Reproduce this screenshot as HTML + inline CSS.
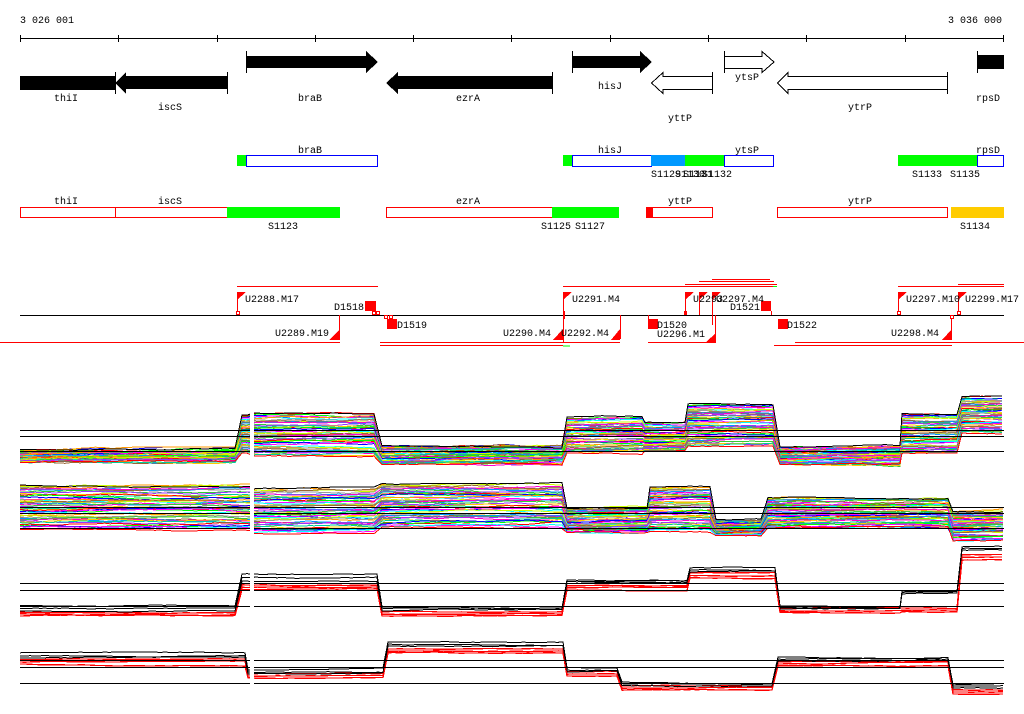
<!DOCTYPE html>
<html><head><meta charset="utf-8"><style>
html,body{margin:0;padding:0;background:#fff;width:1024px;height:714px;overflow:hidden}
svg text{font-family:"Liberation Mono","DejaVu Sans Mono",monospace;font-size:10px;fill:#000}
</style></head><body>
<svg id="s" width="1024" height="714" xmlns="http://www.w3.org/2000/svg" shape-rendering="crispEdges">
<text x="20" y="23">3 026 001</text>
<text x="948" y="23">3 036 000</text>
<line x1="20" y1="38.5" x2="1004" y2="38.5" stroke="#000"/>
<g stroke="#000">
<line x1="20.5" y1="35" x2="20.5" y2="42"/><line x1="118.5" y1="35" x2="118.5" y2="42"/><line x1="217.5" y1="35" x2="217.5" y2="42"/><line x1="315.5" y1="35" x2="315.5" y2="42"/><line x1="413.5" y1="35" x2="413.5" y2="42"/><line x1="511.5" y1="35" x2="511.5" y2="42"/><line x1="610.5" y1="35" x2="610.5" y2="42"/><line x1="708.5" y1="35" x2="708.5" y2="42"/><line x1="806.5" y1="35" x2="806.5" y2="42"/><line x1="905.5" y1="35" x2="905.5" y2="42"/><line x1="1003.5" y1="35" x2="1003.5" y2="42"/>
</g>
<!-- genes -->
<rect x="20" y="76" width="95" height="14" fill="#000"/>
<polygon points="227,76 126,76 126,72 115,83 126,94 126,89 227,89" fill="#000"/>
<polygon points="246,56 366,56 366,51 378,62 366,73 366,68 246,68" fill="#000"/>
<polygon points="552,76 398,76 398,72 386,83 398,94 398,89 552,89" fill="#000"/>
<polygon points="572,56 640,56 640,51 652,62 640,73 640,68 572,68" fill="#000"/>
<polygon points="712.5,76.5 663,76.5 663,72.5 651.5,83 663,93.5 663,89.5 712.5,89.5" fill="#fff" stroke="#000"/>
<polygon points="724.5,56.5 762,56.5 762,51.5 774,62 762,72.5 762,68.5 724.5,68.5" fill="#fff" stroke="#000"/>
<polygon points="947.5,76.5 788,76.5 788,72.5 777.5,83 788,93.5 788,89.5 947.5,89.5" fill="#fff" stroke="#000"/>
<rect x="977" y="55" width="27" height="14" fill="#000"/>
<g stroke="#000">
<line x1="115.5" y1="72" x2="115.5" y2="94"/><line x1="227.5" y1="72" x2="227.5" y2="94"/>
<line x1="246.5" y1="51" x2="246.5" y2="73"/><line x1="552.5" y1="72" x2="552.5" y2="94"/>
<line x1="572.5" y1="51" x2="572.5" y2="73"/><line x1="712.5" y1="72" x2="712.5" y2="94"/>
<line x1="724.5" y1="51" x2="724.5" y2="73"/><line x1="947.5" y1="72" x2="947.5" y2="94"/>
<line x1="977.5" y1="51" x2="977.5" y2="73"/>
</g>
<text x="54" y="101">thiI</text><text x="158" y="110">iscS</text><text x="298" y="101">braB</text>
<text x="456" y="101">ezrA</text><text x="598" y="89">hisJ</text><text x="668" y="121">yttP</text>
<text x="735" y="80">ytsP</text><text x="848" y="110">ytrP</text><text x="976" y="101">rpsD</text>
<!-- row 2 -->
<rect x="237" y="155" width="9" height="11" fill="#00ff00"/>
<rect x="246.5" y="155.5" width="131" height="11" fill="#fff" stroke="#0000ff"/>
<text x="298" y="153">braB</text>
<rect x="563" y="155" width="9" height="11" fill="#00ff00"/>
<rect x="572.5" y="155.5" width="79" height="11" fill="#fff" stroke="#0000ff"/>
<rect x="651" y="155" width="34" height="11" fill="#0099ff"/>
<rect x="685" y="155" width="39" height="11" fill="#00ff00"/>
<rect x="724.5" y="155.5" width="49" height="11" fill="#fff" stroke="#0000ff"/>
<text x="598" y="153">hisJ</text><text x="735" y="153">ytsP</text>
<text x="651" y="177">S1129</text><text x="675" y="177">S1130</text><text x="683" y="177">S1131</text><text x="702" y="177">S1132</text>
<rect x="898" y="155" width="79" height="11" fill="#00ff00"/>
<rect x="977.5" y="155.5" width="26" height="11" fill="#fff" stroke="#0000ff"/>
<text x="976" y="153">rpsD</text><text x="912" y="177">S1133</text><text x="950" y="177">S1135</text>
<!-- row 3 -->
<rect x="20.5" y="207.5" width="95" height="10" fill="#fff" stroke="#ff0000"/>
<rect x="115.5" y="207.5" width="112" height="10" fill="#fff" stroke="#ff0000"/>
<rect x="227" y="207" width="113" height="11" fill="#00ff00"/>
<rect x="386.5" y="207.5" width="166" height="10" fill="#fff" stroke="#ff0000"/>
<rect x="552" y="207" width="67" height="11" fill="#00ff00"/>
<rect x="646" y="207" width="6" height="11" fill="#ff0000"/>
<rect x="652.5" y="207.5" width="60" height="10" fill="#fff" stroke="#ff0000"/>
<rect x="777.5" y="207.5" width="170" height="10" fill="#fff" stroke="#ff0000"/>
<rect x="951" y="207" width="53" height="11" fill="#ffcc00"/>
<text x="54" y="204">thiI</text><text x="158" y="204">iscS</text><text x="456" y="204">ezrA</text>
<text x="668" y="204">yttP</text><text x="848" y="204">ytrP</text>
<text x="268" y="229">S1123</text><text x="541" y="229">S1125</text><text x="575" y="229">S1127</text><text x="960" y="229">S1134</text>
<!-- marker row -->
<line x1="20" y1="315.5" x2="1004" y2="315.5" stroke="#000"/>
<g stroke="#ff0000">
<line x1="237" y1="286.5" x2="378" y2="286.5"/>
<line x1="563" y1="286.5" x2="777" y2="286.5"/>
<line x1="685" y1="284.5" x2="777" y2="284.5"/>
<line x1="699" y1="281.5" x2="774" y2="281.5"/>
<line x1="712" y1="279.5" x2="770" y2="279.5"/>
<line x1="898" y1="286.5" x2="1004" y2="286.5"/>
<line x1="958" y1="284.5" x2="1004" y2="284.5"/>
<line x1="0" y1="342.5" x2="340" y2="342.5"/>
<line x1="380" y1="342.5" x2="620" y2="342.5"/>
<line x1="648" y1="342.5" x2="716" y2="342.5"/>
<line x1="795" y1="342.5" x2="1024" y2="342.5"/>
<line x1="380" y1="345.5" x2="563" y2="345.5"/>
<line x1="774" y1="345.5" x2="952" y2="345.5"/>
<line x1="237.5" y1="292" x2="237.5" y2="315"/>
<line x1="339.5" y1="315" x2="339.5" y2="339"/>
<line x1="563.5" y1="292" x2="563.5" y2="342"/>
<line x1="620.5" y1="315" x2="620.5" y2="339"/>
<line x1="648.5" y1="315" x2="648.5" y2="329"/>
<line x1="685.5" y1="292" x2="685.5" y2="315"/>
<line x1="699.5" y1="292" x2="699.5" y2="315"/>
<line x1="712.5" y1="292" x2="712.5" y2="325"/>
<line x1="715.5" y1="315" x2="715.5" y2="342"/>
<line x1="771.5" y1="311" x2="771.5" y2="315"/>
<line x1="898.5" y1="292" x2="898.5" y2="315"/>
<line x1="951.5" y1="315" x2="951.5" y2="339"/>
<line x1="958.5" y1="292" x2="958.5" y2="315"/>
</g>
<line x1="563" y1="346" x2="570" y2="346" stroke="#00ff00"/>
<line x1="773" y1="286.5" x2="777" y2="286.5" stroke="#00ff00"/>
<g fill="#ff0000">
<polygon points="237,292 246,292 237,300"/><polygon points="563,292 572,292 563,300"/>
<polygon points="685,292 694,292 685,300"/><polygon points="699,292 708,292 699,300"/><polygon points="712,292 721,292 712,300"/>
<polygon points="898,292 907,292 898,300"/><polygon points="958,292 967,292 958,300"/>
<polygon points="340,329 340,340 329,340"/><polygon points="563,329 563,340 553,340"/>
<polygon points="620,329 620,340 611,340"/><polygon points="716,333 716,342 706,342"/>
<polygon points="952,329 952,340 942,340"/>
<rect x="365" y="301" width="11" height="10"/><rect x="387" y="319" width="10" height="10"/>
<rect x="648" y="319" width="10" height="10"/><rect x="761" y="301" width="10" height="10"/>
<rect x="778" y="319" width="10" height="10"/>
<rect x="684" y="311" width="3" height="4"/><rect x="563" y="311" width="2" height="8"/>
</g>
<g fill="#fff" stroke="#ff0000">
<rect x="236.5" y="311.5" width="3" height="3"/><rect x="372.5" y="311.5" width="3" height="3"/><rect x="376.5" y="311.5" width="3" height="3"/>
<rect x="384.5" y="315.5" width="3" height="3"/><rect x="389.5" y="315.5" width="3" height="3"/>
<rect x="897.5" y="311.5" width="3" height="3"/><rect x="950.5" y="315.5" width="3" height="3"/><rect x="957.5" y="311.5" width="3" height="3"/>
</g>
<text x="245" y="302">U2288.M17</text><text x="334" y="310">D1518</text>
<text x="275" y="336">U2289.M19</text><text x="397" y="328">D1519</text>
<text x="503" y="336">U2290.M4</text><text x="572" y="302">U2291.M4</text>
<text x="561" y="336">U2292.M4</text><text x="657" y="328">D1520</text>
<text x="657" y="337">U2296.M1</text><text x="693" y="302">U2293</text><text x="716" y="302">U2297.M4</text>
<text x="730" y="310">D1521</text><text x="787" y="328">D1522</text>
<text x="906" y="302">U2297.M10</text><text x="891" y="336">U2298.M4</text><text x="965" y="302">U2299.M17</text>
<g id="plots"></g>
<g stroke="#000" id="base">
<line x1="20" y1="430.5" x2="1004" y2="430.5"/><line x1="20" y1="436.5" x2="1004" y2="436.5"/><line x1="20" y1="451.5" x2="1004" y2="451.5"/>
<line x1="20" y1="507.5" x2="1004" y2="507.5"/><line x1="20" y1="513.5" x2="1004" y2="513.5"/><line x1="20" y1="528.5" x2="1004" y2="528.5"/>
<line x1="20" y1="583.5" x2="1004" y2="583.5"/><line x1="20" y1="590.5" x2="1004" y2="590.5"/><line x1="20" y1="606.5" x2="1004" y2="606.5"/>
<line x1="20" y1="660.5" x2="1004" y2="660.5"/><line x1="20" y1="667.5" x2="1004" y2="667.5"/><line x1="20" y1="683.5" x2="1004" y2="683.5"/>
</g>
<rect x="250" y="390" width="4" height="310" fill="#fff"/>
</svg>
<script>
(function(){
var seed=7;function r(){seed=(seed*16807)%2147483647;return seed/2147483647;}
var NS="http://www.w3.org/2000/svg",g=document.getElementById("plots");
var cols=["#ff0000","#00ff00","#0000ff","#ff00ff","#00ffff","#ff9900","#ccff00","#999999","#996633","#0099ff","#ff00cc","#33cc33","#9933ff","#ffcc00","#00cc99"];
function trace(segs,t,col,w,amp){
  var pts=[];
  segs.forEach(function(s){
    var y=s[2]+(s[3]-s[2])*t;
    for(var x=s[0];x<=s[1];x+=5){y+=(r()-0.5)*amp; var yy=Math.max(Math.min(y,s[3]+3),s[2]-3);pts.push(x+","+yy.toFixed(1));}
  });
  var p=document.createElementNS(NS,"polyline");
  p.setAttribute("points",pts.join(" "));p.setAttribute("fill","none");p.setAttribute("stroke",col);p.setAttribute("stroke-width",w);
  p.setAttribute("shape-rendering","crispEdges");
  g.appendChild(p);
}
var P1=[[20,238,450,462],[242,250,416,452],[254,378,414,455],[382,565,446,464],[567,643,418,452],[645,686,423,450],[688,776,405,445],[780,900,447,464],[902,958,414,452],[962,1004,397,432]];
var P2=[[20,250,486,528],[254,378,490,532],[382,565,484,526],[567,648,509,532],[650,713,488,530],[716,765,520,535],[768,950,498,527],[953,1004,512,540]];
for(var i=0;i<45;i++){trace(P1,i/44,cols[i%cols.length],1,1.2);trace(P2,i/44,cols[(i+5)%cols.length],1,1.2);}
trace(P1,-0.02,"#000",1,0.8);trace(P1,1.03,"#ff0000",1,0.8);
trace(P2,-0.02,"#000",1,0.8);trace(P2,1.03,"#ff0000",1,0.8);
var P3b=[[20,238,606,611],[242,378,574,581],[382,565,607,611],[567,688,580,583],[690,776,568,572],[780,900,606,609],[902,958,591,594],[962,1004,547,550]];
var P3r=[[20,238,612,616],[242,378,585,590],[382,565,612,616],[567,688,586,590],[690,776,573,578],[780,900,609,612],[902,958,608,612],[962,1004,555,560]];
var P4b=[[20,245,653,658],[248,385,670,674],[388,565,642,646],[567,620,668,672],[622,775,682,686],[778,950,657,661],[953,1004,684,688]];
var P4r=[[20,245,660,664],[248,385,674,678],[388,565,649,653],[567,620,672,676],[622,775,686,690],[778,950,662,666],[953,1004,690,694]];
for(var j=0;j<3;j++){trace(P3b,j/2,"#000",1,0.6);trace(P3r,j/2,"#ff0000",1.3,0.6);trace(P4b,j/2,"#000",1,0.6);trace(P4r,j/2,"#ff0000",1.3,0.6);}
})();
</script>
</body></html>
